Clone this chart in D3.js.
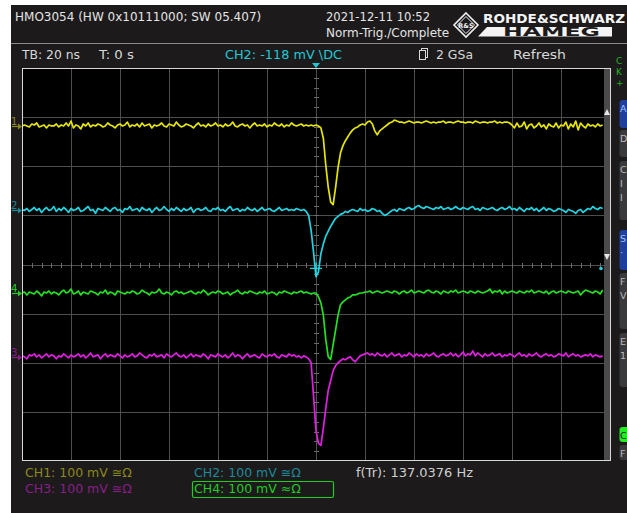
<!DOCTYPE html>
<html>
<head>
<meta charset="utf-8">
<script src="https://cdn.jsdelivr.net/npm/d3@7"></script>
<style>
  html, body { margin: 0; padding: 0; background: #ffffff; }
  svg { display: block; }
  text { font-family: "DejaVu Sans", "Liberation Sans", sans-serif; }
</style>
</head>
<body>
<svg id="scope" width="627" height="513"></svg>
<script>
// ---- acquisition settings -------------------------------------------------
const timePerDivNs = 20;          // TB: 20 ns
const voltsPerDivMv = 100;        // every channel at 100 mV/div
const sampleStartNs = -120;       // first sample on screen
const sampleStepNs = 1;           // one point per ns
const triggerLevelMv = -118;      // CH2 trigger level

const channelNames = ["CH1", "CH2", "CH3", "CH4"];
const channelColors = ["#e6e600", "#22d4e2", "#e020e0", "#22e222"];
const channelLabelColors = ["#8c8a1c", "#1c8a98", "#8a1e8a", "#22cc22"];
const channelOffsetsMv = [282, 110, -188, -58];   // channel zero position on screen

// ---- traces, mV relative to each channel's zero, 1 ns apart from -120 ns ----
const ch1Mv = [
  0, 2, 0, -2, 4, 2, 6, -2, 0, 2, -4, 2, 0, 0, 4, -2, 2, 0, 6, 0, 10, -4, 2, 0, -6, 4, 0, 6, -2, 2, 0, 4, 2, -2, 0, 6, 2, 0, -4, 2,
  4, 0, 2, 8, -2, 2, 0, 4, -2, 6, 0, 2, 4, -4, 2, 0, 2, 6, 0, -2, 4, 2, 0, 8, 2, -2, 0, 4, 2, 0, -4, 2, 6, 0, 2, -2, 4, 0, 2, 6,
  0, 2, -2, 4, 0, 2, 8, 0, -2, 2, 4, 0, 2, -4, 2, 6, 0, 2, 0, 4, -2, 2, 0, 6, 2, 0, 4, -2, 2, 0, 6, 2, 0, 2, 4, 0, 2, 0, 2, 0,
  2, 0, -4, -25, -80, -125, -155, -160, -125, -85, -55, -40, -30, -22, -14, -8, -4, -2, 2, 4, 2, 8, 10, 4, -10, -18, -10, -6, -2, 2, 6, 8, 12, 10, 8,
  8, 6, 8, 10, 8, 6, 8, 8, 6, 8, 10, 8, 6, 8, 6, 8, 8, 10, 6, 8, 8, 6, 8, 10, 8, 8, 6, 8, 8, 6, 10, 8, 6, 8, 8, 6, 8, 8, 10, 6, 8, 6, 8, 8, 6,
  2, -4, 6, -2, 0, 8, -6, 2, 4, -4, 0, 6, -2, 2, -6, 4, 0, -2, 6, -4, 2, 0, 8, -6, 4, -2, 10, -8, 6, 0, -4, 4, 0, 2, -2, 4, 0, 2
];
const ch2Mv = [
  2, 0, 4, -2, 2, 6, 0, 4, -4, 2, 6, 0, 2, 8, -2, 4, 0, 6, 2, -4, 4, 0, 2, 6, -2, 0, 4, 8, 0, 2, -6, 4, 2, 0, 6, 2, -2, 4, 6, 0,
  2, -4, 4, 2, 8, 0, 2, 4, -2, 6, 2, 0, 4, -4, 2, 6, 0, 2, 8, 2, -2, 4, 0, 6, 2, -2, 4, 0, 2, 6, -4, 2, 4, 0, 2, 6, 0, -2, 4, 2,
  6, 0, 2, -2, 4, 8, 0, 2, 4, -2, 2, 0, 6, 2, 0, 4, -2, 2, 6, 0, 2, 4, 0, -2, 2, 6, 0, 2, 4, 0, 2, 0, 4, 2, 0, 2,
  -2, -10, -40, -85, -135, -125, -88, -68, -52, -42, -32, -24, -16, -12, -8, -6, -2, -4, 0,
  2, 0, -2, 4, 0, 2, -2, 0, 4, 2, -2, 0, -6, -10, -8, -4, 0, 2, -2, 4, 2, 0, 4, 6, 2, 4,
  8, 10, 6, 4, 8, 6, 4, 2, 6, 4, 8, 2, 4, 6, 2, 4, 8, 4, 2, 6, 4, 2, 6, 8, 2, 4, 0, 6, 4, 2, 4, 6, 2, 0, 4, 6, 2, 4, 8, 2,
  4, 0, 6, 2, -2, 4, 2, 6, 0, 4, -2, 2, 6, 0, 4, 2, -2, 0, 4, 2, 0, -4, 2, 0, -2, -6, 0, 2, -4, 0, 4, 2, 8, 4, 2, 6, 4
];
const ch3Mv = [
  2, 0, -4, 4, 2, 6, 0, 4, -2, 2, 6, 0, 4, 2, -4, 2, 0, 6, 2, -2, 4, 0, 2, 6, 0, 4, -2, 2, 8, 0, 2, 4, -4, 2, 6, 0, 4, 2, 0, 6,
  2, -2, 4, 0, 2, 6, 0, 2, 8, 4, 0, -2, 4, 2, 6, 0, 2, 4, -2, 6, 2, 0, 4, 8, 2, 0, 4, -2, 2, 6, 0, 4, 2, 0, 6, 2, -4, 4, 2, 0,
  6, 2, 0, 4, -2, 2, 8, 0, 4, 2, -4, 2, 6, 0, 2, 4, 0, -2, 6, 2, 0, 4, 2, 6, 0, -2, 4, 2, 0, 6, 2, 4, 0, 2, -2, 2, 0,
  -4, -12, -80, -150, -176, -180, -145, -105, -68, -48, -28, -18, -12, -8, -4, -6, -2, 0, -6, -10, -4, 2, 4, 6, 8,
  4, 6, 2, 8, 4, 2, 6, 0, 4, 8, 2, 4, 6, 0, 4, 2, 8, 4, 0, 6, 2, 4, 0, 6, 2, 4, 8, 2, 0, 4,
  6, 2, 4, 8, 2, 6, 0, 4, 10, 2, 6, 4, 12, 2, 8, 4, 0, 6, 2, 4, 8, 2, 4, 6, 0, 4, 2, 6, 4, 0,
  4, 8, 2, 4, 0, 6, 2, 4, 8, 2, 0, 4, 6, 2, 4, 0, 2, 6, 4, 2, 8, 0, 4, 6, 2, 4, 0, 2, 4, 2, 6, 0, 4, 2, 0, 2
];
const ch4Mv = [
  0, 2, -4, 2, 0, -2, 4, 0, -6, 2, 0, 4, -2, 2, 0, -4, 2, 6, 0, 2, 8, -2, 0, 4, -4, 2, 0, -2, 4, 2, 0, -4, 2, 0, 6, -2, 2, 0, -4, 4,
  2, 0, -2, 2, 0, 4, 2, -2, 0, 6, 2, 0, -4, 2, 0, 2, 8, 0, -2, 2, 0, -4, 2, 4, 0, 2, -2, 0, 2, 4, 0, -2, 2, 0, 6, 2, -4, 0, 2, 0,
  4, 2, -2, 0, 2, -4, 0, 2, 6, 0, -2, 2, 0, 4, 2, 0, -2, 2, 0, 4, -2, 0, 2, 0, -4, 2, 0, 4, 2, 0, -2, 2, 0, 2, 4, 0, 2, 0, -2, 0,
  0, -8, -20, -45, -95, -130, -135, -105, -75, -45, -24, -18, -14, -10, -8, -4, -4, -2, 0, 0, 2,
  2, 4, 0, 2, 4, 2, 0, 2, 4, 2, 0, 4, 2, -2, 2, 4, 0, 2, 6, 0, 2, 4, 2, 0, 4, 6, 2, 0, 4, 2,
  -2, 4, 2, 0, 4, 2, 6, 0, 2, 4, 2, 0, 4, 2, 0, 4, 2, 0, 2, 4, 8, 0, 4, 2, 6, -2, 4, 0, 2, 4,
  2, 0, 4, 2, 0, 4, 2, 6, 0, 2, 4, 2, 0, 4, -2, 2, 4, 0, 2, 4, 2, 0, 4, 2, 0, 2, 4, -4, 2, 6, 4, 2, 0, 4, 2, -2, 6
];
const channelTraces = [ch1Mv, ch2Mv, ch3Mv, ch4Mv];
const channelMarkers = ["1", "2", "3", "4"];

// ---- status texts ---------------------------------------------------------
const headerTitle = "HMO3054 (HW 0x10111000; SW 05.407)";
const headerDate = "2021-12-11 10:52";
const headerMode = "Norm-Trig./Complete";
const statusTimebase = "TB: 20 ns";
const statusDelay = "T: 0 s";
const statusTrigger = "CH2: -118 mV \u005CDC";
const statusRate = "2 GSa";
const statusAcq = "Refresh";
const channelFooters = ["CH1: 100 mV \u2245\u03A9", "CH2: 100 mV \u2245\u03A9", "CH3: 100 mV \u2245\u03A9", "CH4: 100 mV \u2248\u03A9"];
const freqReadout = "f(Tr): 137.0376 Hz";

// ---- drawing --------------------------------------------------------------
const svg = d3.select("#scope");
const W = 627, H = 513;

// instrument screen background
svg.append("rect").attr("x", 11).attr("y", 5).attr("width", W - 11).attr("height", H - 5)
  .attr("fill", "#1c1a1b");

// header
svg.append("text").attr("x", 15).attr("y", 21).attr("font-size", 12).attr("fill", "#e4e4e4").text(headerTitle);
svg.append("text").attr("x", 326).attr("y", 21).attr("font-size", 12).attr("fill", "#e4e4e4")
  .attr("textLength", 104).attr("lengthAdjust", "spacingAndGlyphs").text(headerDate);
svg.append("text").attr("x", 326).attr("y", 37).attr("font-size", 12).attr("fill", "#e4e4e4").text(headerMode);

// R&S logo
const logo = svg.append("g");
const dia = (cx, cy, r) => `M${cx},${cy - r}L${cx + r},${cy}L${cx},${cy + r}L${cx - r},${cy}Z`;
logo.append("path").attr("d", dia(466, 25, 12)).attr("fill", "#1c1a1b").attr("stroke", "#f0f0f0").attr("stroke-width", 1.6);
logo.append("path").attr("d", dia(466, 25, 8.5)).attr("fill", "none").attr("stroke", "#f0f0f0").attr("stroke-width", 1);
logo.append("text").attr("x", 466).attr("y", 28).attr("text-anchor", "middle").attr("font-size", 6.5)
  .attr("font-weight", "bold").attr("fill", "#f0f0f0").text("R&S");
logo.append("text").attr("x", 483).attr("y", 23).attr("font-size", 13).attr("font-weight", "bold")
  .attr("textLength", 142).attr("lengthAdjust", "spacingAndGlyphs").attr("fill", "#f4f4f4").text("ROHDE&SCHWARZ");
logo.append("path").attr("d", "M487,27L612,27L612,36.5L478,36.5Z").attr("fill", "#f4f4f4");
logo.append("text").attr("x", 503).attr("y", 36).attr("font-size", 11.5).attr("font-weight", "bold")
  .attr("textLength", 97).attr("lengthAdjust", "spacingAndGlyphs").attr("fill", "#1c1a1b").text("HAMEG");

// separator between header and status line
svg.append("line").attr("x1", 11).attr("x2", W).attr("y1", 43.5).attr("y2", 43.5)
  .attr("stroke", "#8a8a8a").attr("stroke-width", 1);

// status line
svg.append("text").attr("x", 22).attr("y", 59).attr("font-size", 12).attr("fill", "#d8d8d8")
  .attr("textLength", 58).attr("lengthAdjust", "spacingAndGlyphs").text(statusTimebase);
svg.append("text").attr("x", 99).attr("y", 59).attr("font-size", 12).attr("fill", "#d8d8d8")
  .attr("textLength", 35).attr("lengthAdjust", "spacingAndGlyphs").text(statusDelay);
svg.append("text").attr("x", 225).attr("y", 59).attr("font-size", 12).attr("fill", "#22c8d4")
  .attr("textLength", 117).attr("lengthAdjust", "spacingAndGlyphs").text(statusTrigger);
const memIcon = svg.append("g").attr("fill", "none").attr("stroke", "#d8d8d8").attr("stroke-width", 1);
memIcon.append("rect").attr("x", 421.5).attr("y", 48.5).attr("width", 6).attr("height", 9);
memIcon.append("rect").attr("x", 419.5).attr("y", 50.5).attr("width", 6).attr("height", 9).attr("fill", "#1c1a1b");
svg.append("text").attr("x", 436).attr("y", 59).attr("font-size", 12).attr("fill", "#d8d8d8")
  .attr("textLength", 37).attr("lengthAdjust", "spacingAndGlyphs").text(statusRate);
svg.append("text").attr("x", 513).attr("y", 59).attr("font-size", 12).attr("fill", "#d8d8d8")
  .attr("textLength", 53).attr("lengthAdjust", "spacingAndGlyphs").text(statusAcq);
svg.append("g").attr("font-size", 9).attr("fill", "#22b022")
  .selectAll("text").data(["C", "K", "+"]).join("text")
  .attr("x", 616).attr("y", (d, i) => 64 + i * 11).text(d => d);

// scales: 12 horizontal and 8 vertical divisions
const x = d3.scaleLinear().domain([-6 * timePerDivNs, 6 * timePerDivNs]).range([22, 610]);
const y = d3.scaleLinear().domain([-4 * voltsPerDivMv, 4 * voltsPerDivMv]).range([461, 68]);

// plot area
svg.append("rect").attr("x", 22).attr("y", 68).attr("width", 589).attr("height", 393).attr("fill", "#000");
svg.append("defs").append("clipPath").attr("id", "plotClip")
  .append("rect").attr("x", 22).attr("y", 68).attr("width", 582).attr("height", 393);

const grid = svg.append("g").attr("stroke", "#4e4e4e").attr("stroke-width", 1);
grid.selectAll("line.v").data(d3.range(-100, 101, timePerDivNs)).join("line").attr("class", "v")
  .attr("x1", d => Math.round(x(d)) + 0.5).attr("x2", d => Math.round(x(d)) + 0.5)
  .attr("y1", y(400)).attr("y2", y(-400));
grid.selectAll("line.h").data(d3.range(-300, 301, voltsPerDivMv)).join("line").attr("class", "h")
  .attr("y1", d => Math.round(y(d)) + 0.5).attr("y2", d => Math.round(y(d)) + 0.5)
  .attr("x1", x(-120)).attr("x2", x(120));

// minor ticks on the centre axes (5 per division)
const ticks = svg.append("g").attr("stroke", "#6a6a6a").attr("stroke-width", 1);
const y0 = Math.round(y(0)) + 0.5, x0 = Math.round(x(0)) + 0.5;
ticks.selectAll("line.tx").data(d3.range(-116, 117, timePerDivNs / 5)).join("line").attr("class", "tx")
  .attr("x1", d => Math.round(x(d)) + 0.5).attr("x2", d => Math.round(x(d)) + 0.5)
  .attr("y1", y0 - 2.5).attr("y2", y0 + 2.5);
ticks.selectAll("line.ty").data(d3.range(-380, 381, voltsPerDivMv / 5)).join("line").attr("class", "ty")
  .attr("y1", d => Math.round(y(d)) + 0.5).attr("y2", d => Math.round(y(d)) + 0.5)
  .attr("x1", x0 - 2.5).attr("x2", x0 + 2.5);

// waveforms
const line = d3.line().x(d => x(d[0])).y(d => y(d[1]));
const traces = svg.append("g").attr("clip-path", "url(#plotClip)");
[0, 1, 3, 2].forEach(c => {
  const pts = channelTraces[c].map((v, i) => [sampleStartNs + i * sampleStepNs, channelOffsetsMv[c] + v]);
  traces.append("path").datum(pts).attr("d", line)
    .attr("fill", "none").attr("stroke", channelColors[c]).attr("stroke-width", 1.7)
    .attr("stroke-linejoin", "round");
});

// trigger point cross and trigger level marker (CH2)
const trigY = y(channelOffsetsMv[1] + triggerLevelMv);
svg.append("path").attr("d", `M${x(0) - 6},${trigY}H${x(0) + 6}M${x(0)},${trigY - 6}V${trigY + 6}`)
  .attr("stroke", "#22d4e2").attr("stroke-width", 1.2);
svg.append("circle").attr("cx", 601).attr("cy", trigY).attr("r", 1.8).attr("fill", "#22d4e2");
svg.append("path").attr("d", `M${x(0) - 4},63L${x(0) + 4},63L${x(0)},68Z`).attr("fill", "#22c8d4");

// scroll bar on the right edge of the grid
svg.append("rect").attr("x", 604).attr("y", 68).attr("width", 6).attr("height", 393).attr("fill", "#4a4a4a");
svg.append("path").attr("d", "M604,115L610,115L607,109Z").attr("fill", "#e8e8e8");
svg.append("path").attr("d", "M604,254L610,254L607,260Z").attr("fill", "#e8e8e8");

// grid frame
svg.append("rect").attr("x", 22.5).attr("y", 68.5).attr("width", 588).attr("height", 392)
  .attr("fill", "none").attr("stroke", "#d8d8d8").attr("stroke-width", 1);

// channel zero markers on the left
channelNames.forEach((n, c) => {
  const cy = Math.round(y(channelOffsetsMv[c])) + 0.5;
  const g = svg.append("g").attr("fill", channelLabelColors[c]).attr("stroke", channelLabelColors[c]);
  g.append("text").attr("x", 11).attr("y", cy - 2).attr("font-size", 10).attr("stroke", "none").text(channelMarkers[c]);
  g.append("line").attr("x1", 12).attr("x2", 19).attr("y1", cy).attr("y2", cy).attr("stroke-width", 1.2);
  g.append("path").attr("d", `M18,${cy - 3}L22,${cy}L18,${cy + 3}Z`).attr("stroke", "none");
});

// footer: channel settings and trigger frequency
const footPos = [[25, 477], [194, 477], [25, 493], [194, 493]];
channelFooters.forEach((t, c) => {
  svg.append("text").attr("x", footPos[c][0]).attr("y", footPos[c][1]).attr("font-size", 12.5)
    .attr("fill", channelLabelColors[c]).text(t);
});
svg.append("rect").attr("x", 192.5).attr("y", 481.5).attr("width", 141).attr("height", 16).attr("rx", 1.5)
  .attr("fill", "none").attr("stroke", "#22cc22").attr("stroke-width", 1.2);
svg.append("text").attr("x", 356).attr("y", 477).attr("font-size", 12.5).attr("fill", "#cfcfcf")
  .attr("textLength", 117).attr("lengthAdjust", "spacingAndGlyphs").text(freqReadout);

// soft keys at the right edge
const softKeys = [
  { y0: 100, y1: 128, fill: "#1f3f9c", text: ["A"], tc: "#9cc4ff" },
  { y0: 130, y1: 157, fill: "#3a3a3c", text: ["D"], tc: "#bbbbbb" },
  { y0: 161, y1: 220, fill: "#3a3a3c", text: ["C", "I", "I"], tc: "#bbbbbb" },
  { y0: 230, y1: 270, fill: "#1f3f9c", text: ["S", "·"], tc: "#9cc4ff" },
  { y0: 273, y1: 329, fill: "#3a3a3c", text: ["F", "V"], tc: "#bbbbbb" },
  { y0: 333, y1: 387, fill: "#3a3a3c", text: ["E", "1"], tc: "#bbbbbb" },
  { y0: 427, y1: 442, fill: "#22ee22", text: ["C"], tc: "#1a1a1a" },
  { y0: 445, y1: 460, fill: "#3a3a3c", text: ["F"], tc: "#bbbbbb" }
];
softKeys.forEach(k => {
  svg.append("rect").attr("x", 619.5).attr("y", k.y0).attr("width", 14).attr("height", k.y1 - k.y0)
    .attr("rx", 3).attr("fill", k.fill);
  k.text.forEach((t, i) => {
    svg.append("text").attr("x", 620).attr("y", k.y0 + 12 + i * 14).attr("font-size", 9.5)
      .attr("fill", k.tc).text(t);
  });
});
</script>
</body>
</html>
